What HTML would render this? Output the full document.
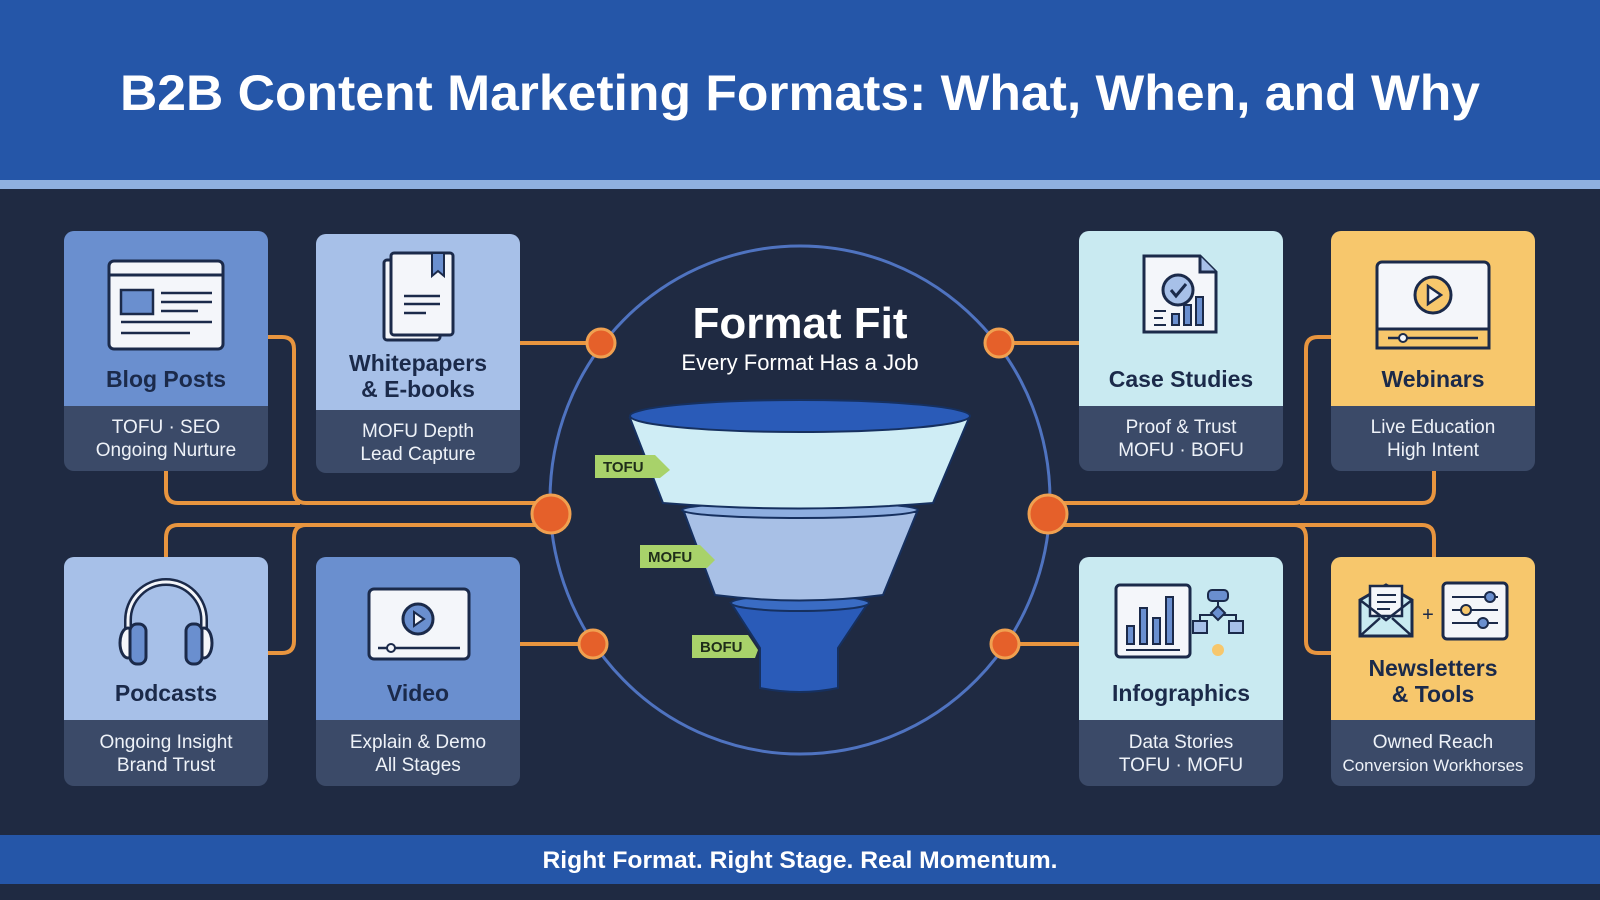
<!DOCTYPE html>
<html><head><meta charset="utf-8"><style>
html,body{margin:0;padding:0;background:#1f2a42}
svg{display:block}
text{font-family:"Liberation Sans",sans-serif}
</style></head><body>
<svg width="1600" height="900" viewBox="0 0 1600 900" xmlns="http://www.w3.org/2000/svg">
<rect width="1600" height="900" fill="#1f2a42"/>
<rect width="1600" height="180" fill="#2556a8"/>
<rect y="180" width="1600" height="9" fill="#8fb0e0"/>
<text x="800" y="110" text-anchor="middle" font-size="50" font-weight="bold" fill="#ffffff" textLength="1360" lengthAdjust="spacingAndGlyphs">B2B Content Marketing Formats: What, When, and Why</text>

<rect y="835" width="1600" height="49" fill="#2556a8"/>
<text x="800" y="868" text-anchor="middle" font-size="24" font-weight="bold" fill="#ffffff" textLength="515" lengthAdjust="spacingAndGlyphs">Right Format. Right Stage. Real Momentum.</text>

<!-- circle -->
<ellipse cx="800" cy="500" rx="250" ry="254" fill="none" stroke="#4f73c0" stroke-width="3"/>

<!-- connectors -->
<g fill="none" stroke="#e8953f" stroke-width="4">
<path d="M268 337 H282 Q294 337 294 349 V490 Q294 503 306 503 H540"/>
<path d="M166 471 V490 Q166 503 178 503 H300"/>
<path d="M166 557 V538 Q166 525 178 525 H540"/>
<path d="M268 653 H282 Q294 653 294 641 V538 Q294 525 306 525"/>
<path d="M520 343 H601"/>
<path d="M520 644 H593"/>
<path d="M1332 337 H1318 Q1306 337 1306 349 V490 Q1306 503 1294 503 H1060"/>
<path d="M1434 471 V490 Q1434 503 1422 503 H1300"/>
<path d="M1434 557 V538 Q1434 525 1422 525 H1060"/>
<path d="M1332 653 H1318 Q1306 653 1306 641 V538 Q1306 525 1294 525"/>
<path d="M1080 343 H999"/>
<path d="M1080 644 H1005"/>
</g>
<g fill="#e5602a" stroke="#f0a050" stroke-width="3">
<circle cx="601" cy="343" r="14"/>
<circle cx="551" cy="514" r="19"/>
<circle cx="593" cy="644" r="14"/>
<circle cx="999" cy="343" r="14"/>
<circle cx="1048" cy="514" r="19"/>
<circle cx="1005" cy="644" r="14"/>
</g>

<!-- center text -->
<text x="800" y="338" text-anchor="middle" font-size="44" font-weight="bold" fill="#ffffff">Format Fit</text>
<text x="800" y="370" text-anchor="middle" font-size="22" fill="#ffffff">Every Format Has a Job</text>

<!-- funnel -->
<g stroke="#16305f" stroke-width="2">
<path d="M731 603 L868 603 L838 648 L838 688 Q800 696 760 688 L760 648 Z" fill="#2a5bb8"/>
<ellipse cx="800" cy="603" rx="69" ry="8" fill="#3a6cc4"/>
<path d="M684 512 L917 512 L883 595 Q800 606 715 595 Z" fill="#a8c0e6"/>
<ellipse cx="800" cy="510" rx="118" ry="8" fill="#8eaee0"/>
<path d="M630 418 L969 418 L933 503 Q800 514 663 503 Z" fill="#cfedf5"/>
<ellipse cx="800" cy="416" rx="170" ry="16" fill="#2a5bb8"/>
</g>
<g font-size="15" font-weight="bold" fill="#1f2e1a">
<path d="M595 455 H655 L670 470 L660 478 H595 Z" fill="#a8d26a"/>
<text x="603" y="472" fill="#1f2e1a">TOFU</text>
<path d="M640 545 H700 L715 560 L707 568 H640 Z" fill="#a8d26a"/>
<text x="648" y="562" fill="#1f2e1a">MOFU</text>
<path d="M692 635 H748 L758 650 L755 658 H692 Z" fill="#a8d26a"/>
<text x="700" y="652" fill="#1f2e1a">BOFU</text>
</g>

<!-- cards -->
<defs>
<clipPath id="c1"><rect x="64" y="231" width="204" height="240" rx="10"/></clipPath>
<clipPath id="c2"><rect x="316" y="234" width="204" height="239" rx="10"/></clipPath>
<clipPath id="c3"><rect x="1079" y="231" width="204" height="240" rx="10"/></clipPath>
<clipPath id="c4"><rect x="1331" y="231" width="204" height="240" rx="10"/></clipPath>
<clipPath id="c5"><rect x="64" y="557" width="204" height="229" rx="10"/></clipPath>
<clipPath id="c6"><rect x="316" y="557" width="204" height="229" rx="10"/></clipPath>
<clipPath id="c7"><rect x="1079" y="557" width="204" height="229" rx="10"/></clipPath>
<clipPath id="c8"><rect x="1331" y="557" width="204" height="229" rx="10"/></clipPath>
</defs>
<g clip-path="url(#c1)"><rect x="64" y="231" width="204" height="240" fill="#3b4a68"/><rect x="64" y="231" width="204" height="175" fill="#6a8fcf"/></g>
<g clip-path="url(#c2)"><rect x="316" y="234" width="204" height="239" fill="#3b4a68"/><rect x="316" y="234" width="204" height="176" fill="#a7c0e8"/></g>
<g clip-path="url(#c3)"><rect x="1079" y="231" width="204" height="240" fill="#3b4a68"/><rect x="1079" y="231" width="204" height="175" fill="#c9eaf1"/></g>
<g clip-path="url(#c4)"><rect x="1331" y="231" width="204" height="240" fill="#3b4a68"/><rect x="1331" y="231" width="204" height="175" fill="#f7c76c"/></g>
<g clip-path="url(#c5)"><rect x="64" y="557" width="204" height="229" fill="#3b4a68"/><rect x="64" y="557" width="204" height="163" fill="#a7c0e8"/></g>
<g clip-path="url(#c6)"><rect x="316" y="557" width="204" height="229" fill="#3b4a68"/><rect x="316" y="557" width="204" height="163" fill="#6a8fcf"/></g>
<g clip-path="url(#c7)"><rect x="1079" y="557" width="204" height="229" fill="#3b4a68"/><rect x="1079" y="557" width="204" height="163" fill="#c9eaf1"/></g>
<g clip-path="url(#c8)"><rect x="1331" y="557" width="204" height="229" fill="#3b4a68"/><rect x="1331" y="557" width="204" height="163" fill="#f7c76c"/></g>

<!-- titles -->
<g font-size="23" font-weight="bold" fill="#1b2a4a" text-anchor="middle">
<text x="166" y="387">Blog Posts</text>
<text x="418" y="371">Whitepapers</text>
<text x="418" y="397">&amp; E-books</text>
<text x="1181" y="387">Case Studies</text>
<text x="1433" y="387">Webinars</text>
<text x="166" y="701">Podcasts</text>
<text x="418" y="701">Video</text>
<text x="1181" y="701">Infographics</text>
<text x="1433" y="676">Newsletters</text>
<text x="1433" y="702">&amp; Tools</text>
</g>
<g font-size="19" fill="#eef2f8" text-anchor="middle">
<text x="166" y="433">TOFU · SEO</text><text x="166" y="456">Ongoing Nurture</text>
<text x="418" y="437">MOFU Depth</text><text x="418" y="460">Lead Capture</text>
<text x="1181" y="433">Proof &amp; Trust</text><text x="1181" y="456">MOFU · BOFU</text>
<text x="1433" y="433">Live Education</text><text x="1433" y="456">High Intent</text>
<text x="166" y="748">Ongoing Insight</text><text x="166" y="771">Brand Trust</text>
<text x="418" y="748">Explain &amp; Demo</text><text x="418" y="771">All Stages</text>
<text x="1181" y="748">Data Stories</text><text x="1181" y="771">TOFU · MOFU</text>
<text x="1433" y="748">Owned Reach</text><text x="1433" y="771" font-size="17">Conversion Workhorses</text>
</g>

<!-- icons -->
<g stroke="#1b2a4a" stroke-width="3" fill="#f4f6fa">
<!-- blog -->
<rect x="109" y="261" width="114" height="88" rx="5"/>
<path d="M109 275 H223" />
<rect x="121" y="290" width="32" height="24" fill="#6a8fcf" stroke-width="2.5"/>
<path d="M161 293 H212 M161 302 H212 M161 311 H198 M121 322 H212 M121 333 H190" stroke-width="2.5"/>
<!-- whitepaper -->
<rect x="384" y="260" width="56" height="80" rx="3"/>
<rect x="391" y="253" width="62" height="82" rx="3"/>
<path d="M432 253 V276 L438 271 L444 276 V253 Z" fill="#6a8fcf" stroke-width="2"/>
<path d="M404 296 H440 M404 304 H440 M404 313 H426" stroke-width="2.5"/>
<!-- case -->
<path d="M1144 256 H1200 L1216 272 V332 H1144 Z"/>
<path d="M1200 256 V272 H1216" fill="#a7c0e8"/>
<circle cx="1178" cy="290" r="15" fill="#a7c0e8"/>
<path d="M1171 290 L1176 296 L1186 284" fill="none"/>
<path d="M1154 311 H1166 M1154 318 H1163 M1154 325 H1166" stroke-width="2"/>
<rect x="1172" y="314" width="7" height="11" fill="#6a8fcf" stroke-width="2"/>
<rect x="1184" y="305" width="7" height="20" fill="#6a8fcf" stroke-width="2"/>
<rect x="1196" y="297" width="7" height="28" fill="#6a8fcf" stroke-width="2"/>
<!-- webinar -->
<rect x="1377" y="262" width="112" height="86" rx="5"/>
<rect x="1377" y="329" width="112" height="19" fill="#f7c76c"/>
<circle cx="1433" cy="295" r="18" fill="#f7c76c"/>
<path d="M1428 286 L1441 295 L1428 304 Z" fill="#f4f6fa" stroke-width="2.5"/>
<path d="M1388 338 H1478" stroke-width="2.5"/><circle cx="1403" cy="338" r="4" stroke-width="2"/>
<!-- podcast -->
<path d="M128 637 V620 A38 38 0 0 1 204 620 V637" fill="none" stroke-width="8" stroke="#1b2a4a"/>
<path d="M128 637 V620 A38 38 0 0 1 204 620 V637" fill="none" stroke-width="3" stroke="#f4f6fa"/>
<ellipse cx="128" cy="643" rx="8" ry="15"/>
<ellipse cx="204" cy="643" rx="8" ry="15"/>
<rect x="130" y="624" width="16" height="40" rx="7" fill="#6a8fcf"/>
<rect x="186" y="624" width="16" height="40" rx="7" fill="#6a8fcf"/>
<!-- video -->
<rect x="369" y="589" width="100" height="70" rx="5"/>
<circle cx="418" cy="619" r="15" fill="#6a8fcf"/>
<path d="M414 612 L424 619 L414 626 Z" fill="#f4f6fa" stroke-width="2"/>
<path d="M378 648 H460" stroke-width="2.5"/><circle cx="391" cy="648" r="4" stroke-width="2"/>
<!-- infographic -->
<rect x="1116" y="585" width="74" height="72" rx="4"/>
<rect x="1127" y="626" width="7" height="18" fill="#6a8fcf" stroke-width="2"/>
<rect x="1140" y="608" width="7" height="36" fill="#6a8fcf" stroke-width="2"/>
<rect x="1153" y="618" width="7" height="26" fill="#6a8fcf" stroke-width="2"/>
<rect x="1166" y="597" width="7" height="47" fill="#6a8fcf" stroke-width="2"/>
<path d="M1126 650 H1180" stroke-width="2"/>
<rect x="1208" y="590" width="20" height="11" rx="4" fill="#6a8fcf" stroke-width="2"/>
<path d="M1218 601 V606 M1200 621 V615 H1236 V621" fill="none" stroke-width="2"/>
<path d="M1218 606 L1225 613 L1218 620 L1211 613 Z" fill="#6a8fcf" stroke-width="2"/>
<rect x="1193" y="621" width="14" height="12" fill="#a7c0e8" stroke-width="2"/>
<rect x="1229" y="621" width="14" height="12" fill="#a7c0e8" stroke-width="2"/>
<circle cx="1218" cy="650" r="6" fill="#f7c76c" stroke="none"/>
<!-- newsletter -->
<path d="M1360 600 L1386 585 L1412 600 V636 H1360 Z" fill="#c9eaf1"/>
<rect x="1370" y="586" width="32" height="30" fill="#f4f6fa" stroke-width="2.5"/>
<path d="M1377 595 H1396 M1377 602 H1396 M1377 609 H1390" stroke-width="2"/>
<path d="M1360 600 L1386 620 L1412 600 M1360 636 L1380 618 M1412 636 L1392 618" fill="none" stroke-width="2.5"/>
<text x="1428" y="621" font-size="20" fill="#1b2a4a" stroke="none" text-anchor="middle">+</text>
<rect x="1443" y="583" width="64" height="56" rx="4"/>
<path d="M1452 597 H1498 M1452 610 H1498 M1452 623 H1498" stroke-width="2"/>
<circle cx="1490" cy="597" r="5" fill="#6a8fcf" stroke-width="2"/>
<circle cx="1466" cy="610" r="5" fill="#f7c76c" stroke-width="2"/>
<circle cx="1483" cy="623" r="5" fill="#6a8fcf" stroke-width="2"/>
</g>
</svg>
</body></html>
